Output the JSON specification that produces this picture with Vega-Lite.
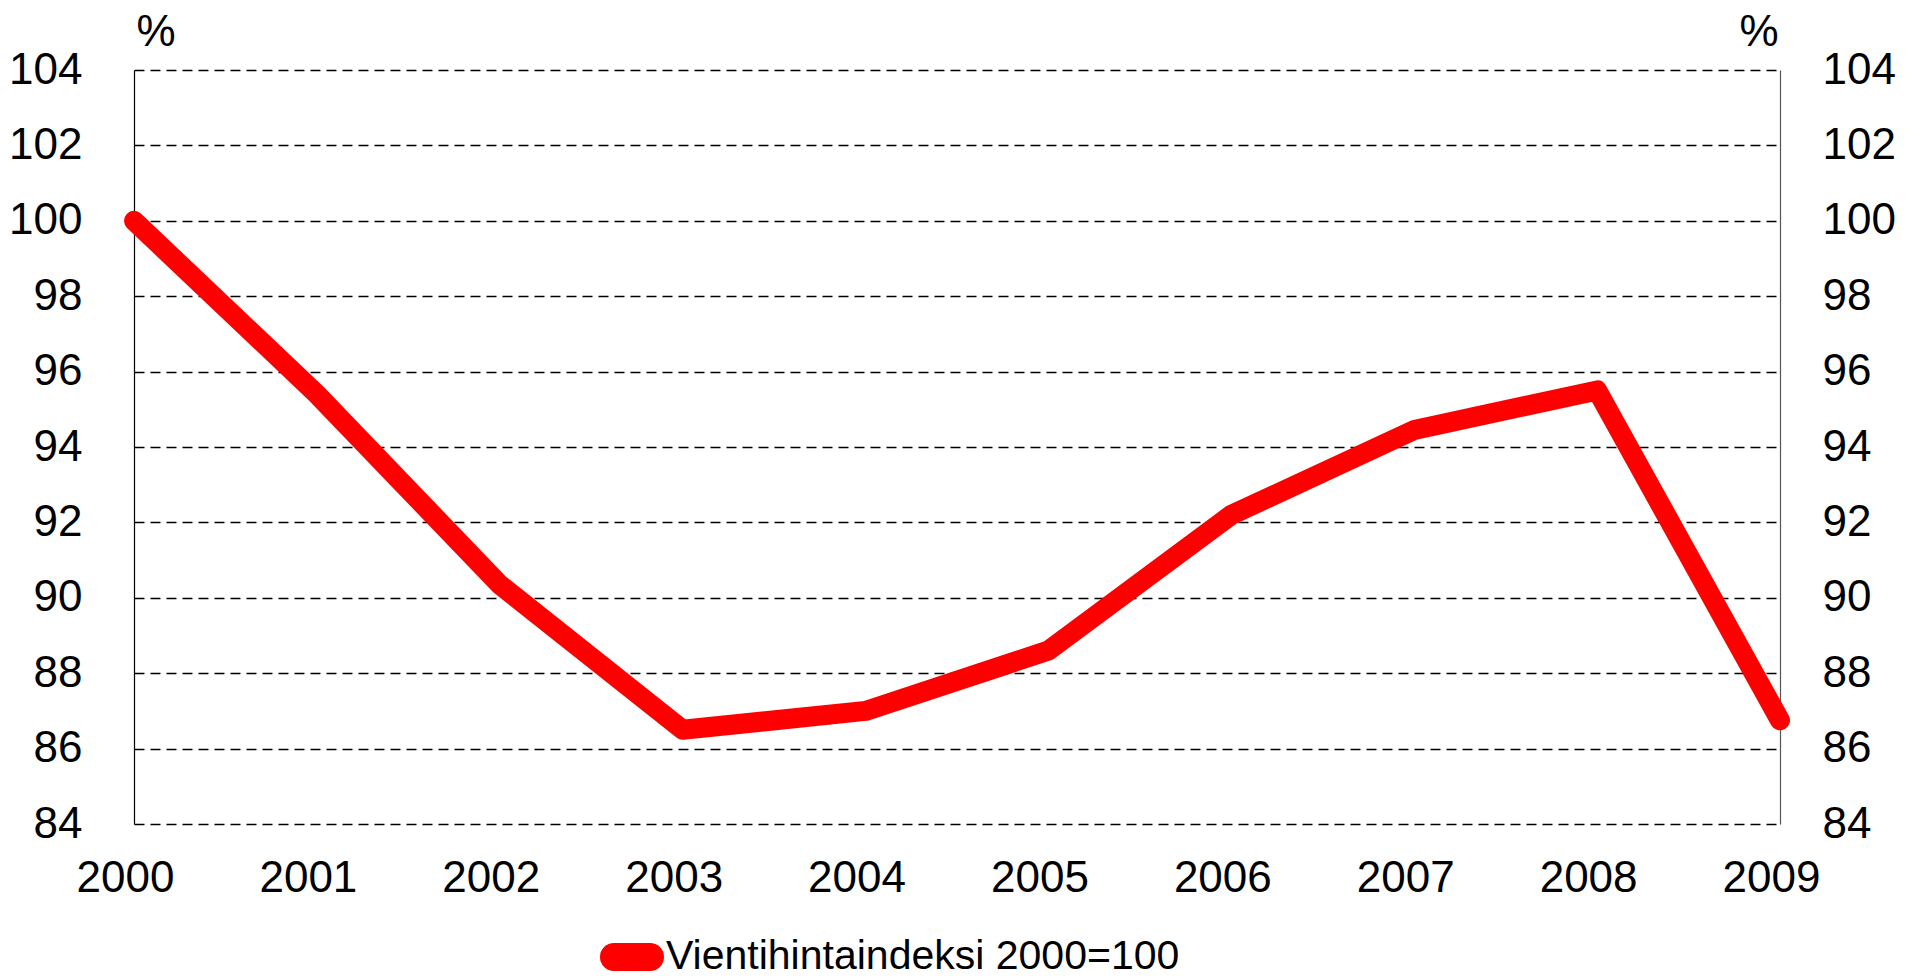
{
  "$schema": "https://vega.github.io/schema/vega-lite/v6.json",
  "width": 1646,
  "height": 754,
  "autosize": {"type": "none"},
  "padding": {"left": 134, "top": 70, "right": 128, "bottom": 156},
  "background": "white",
  "config": {
    "view": {"stroke": null},
    "font": "Liberation Sans",
    "axis": {"labelFont": "Liberation Sans", "titleFont": "Liberation Sans"}
  },
  "data": {
    "values": [
      {"year": "2000", "value": 100.0, "series": "Vientihintaindeksi 2000=100"},
      {"year": "2001", "value": 95.4, "series": "Vientihintaindeksi 2000=100"},
      {"year": "2002", "value": 90.35, "series": "Vientihintaindeksi 2000=100"},
      {"year": "2003", "value": 86.5, "series": "Vientihintaindeksi 2000=100"},
      {"year": "2004", "value": 87.0, "series": "Vientihintaindeksi 2000=100"},
      {"year": "2005", "value": 88.6, "series": "Vientihintaindeksi 2000=100"},
      {"year": "2006", "value": 92.2, "series": "Vientihintaindeksi 2000=100"},
      {"year": "2007", "value": 94.45, "series": "Vientihintaindeksi 2000=100"},
      {"year": "2008", "value": 95.5, "series": "Vientihintaindeksi 2000=100"},
      {"year": "2009", "value": 86.75, "series": "Vientihintaindeksi 2000=100"}
    ]
  },
  "encoding": {
    "x": {
      "field": "year",
      "type": "ordinal",
      "scale": {"type": "point", "padding": 0},
      "axis": {
        "title": null,
        "labelAngle": 0,
        "labelFontSize": 44,
        "labelColor": "black",
        "labelPadding": 32,
        "labelBaseline": "top",
        "labelOffset": -9,
        "ticks": false,
        "domain": false,
        "grid": false
      }
    }
  },
  "layer": [
    {
      "mark": {"type": "line", "strokeWidth": 20, "strokeCap": "round", "strokeJoin": "round"},
      "encoding": {
        "y": {
          "field": "value",
          "type": "quantitative",
          "scale": {"domain": [84, 104], "nice": false, "zero": false},
          "axis": {
            "orient": "left",
            "values": [84, 86, 88, 90, 92, 94, 96, 98, 100, 102, 104],
            "title": "%",
            "titleAngle": 0,
            "titleFontSize": 44,
            "titleFontWeight": "normal",
            "titleColor": "black",
            "titleAlign": "left",
            "titleBaseline": "middle",
            "titleX": 2,
            "titleY": -38,
            "labelFontSize": 44,
            "labelColor": "black",
            "labelPadding": 52,
            "ticks": false,
            "domain": true,
            "domainColor": "black",
            "domainWidth": 1.2,
            "grid": true,
            "gridColor": "black",
            "gridWidth": 1.3,
            "gridDash": [10, 6],
            "gridOpacity": 1
          }
        },
        "color": {
          "field": "series",
          "type": "nominal",
          "scale": {"range": ["#ff0000"]},
          "legend": {
            "title": null,
            "orient": "none",
            "legendX": 466,
            "legendY": 855,
            "direction": "horizontal",
            "symbolType": "stroke",
            "symbolSize": 1296,
            "symbolStrokeWidth": 28,
            "labelFontSize": 41,
            "labelColor": "black",
            "labelFont": "Liberation Sans",
            "labelOffset": 2,
            "labelLimit": 800,
            "encode": {"symbols": {"update": {"strokeCap": {"value": "round"}}}}
          }
        }
      }
    },
    {
      "mark": {"type": "point", "opacity": 0},
      "encoding": {
        "y": {
          "field": "value",
          "type": "quantitative",
          "scale": {"domain": [84, 104], "nice": false, "zero": false},
          "axis": {
            "orient": "right",
            "values": [84, 86, 88, 90, 92, 94, 96, 98, 100, 102, 104],
            "title": "%",
            "titleAngle": 0,
            "titleFontSize": 44,
            "titleFontWeight": "normal",
            "titleColor": "black",
            "titleAlign": "right",
            "titleBaseline": "middle",
            "titleX": -2,
            "titleY": -38,
            "labelFontSize": 44,
            "labelColor": "black",
            "labelPadding": 42,
            "ticks": false,
            "domain": true,
            "domainColor": "#555555",
            "domainWidth": 1.2,
            "grid": false
          }
        }
      }
    }
  ],
  "resolve": {"axis": {"y": "independent"}}
}
